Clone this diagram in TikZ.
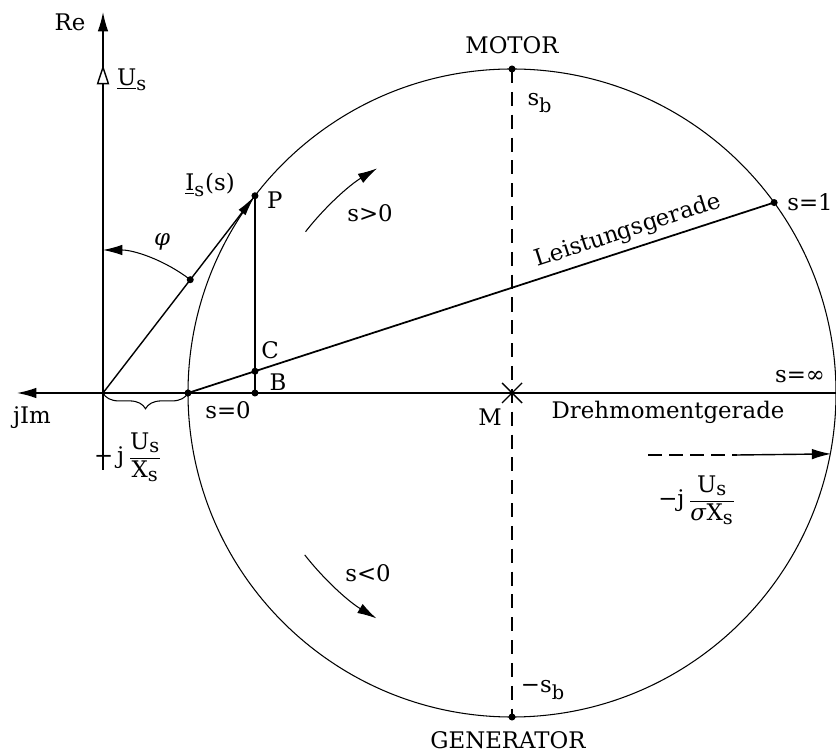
\documentclass[tikz,border=0pt]{standalone}
\usepackage{amsmath}
\usepackage{fontspec}
\setmainfont{DejaVu Serif}
\DeclareMathSizes{13}{13}{11}{9}
\usetikzlibrary{arrows.meta,calc,decorations.pathreplacing}
\begin{document}
\begin{tikzpicture}[font=\fontsize{13}{15}\selectfont,
  pfeil/.style={-{Latex[length=11pt,width=6pt]}},
  dunn/.style={line width=0.6pt},
  achse/.style={line width=0.8pt},
  strich/.style={line width=0.8pt,dash pattern=on 8pt off 5pt},
  punkt/.style={circle,fill,inner sep=0pt,minimum size=4pt}]
\useasboundingbox (-2.06,-7.22) rectangle (14.66,7.86);
\coordinate (O) at (0,0);
\coordinate (M) at (8.18,0);
\coordinate (retip) at (0,7.62);
\coordinate (ybot) at (0,-1.54);
\coordinate (imtip) at (-1.72,0);
\coordinate (xend) at (14.66,0);
\coordinate (us) at (0,6.56);
\coordinate (A) at ($(M)+(180:6.48)$);
\coordinate (P) at ($(M)+(142.5:6.48)$);
\coordinate (S1) at ($(M)+(36:6.48)$);
\coordinate (SB) at ($(M)+(90:6.48)$);
\coordinate (SBm) at ($(M)+(-90:6.48)$);
\coordinate (B) at (P |- O);
\coordinate (C) at (intersection of A--S1 and P--B);
\coordinate (phi) at (52.4:2.86);
\coordinate (ds) at (10.9,-1.24);
\coordinate (dm) at (12.68,-1.24);
\coordinate (de) at ($(M)+(-10.8:6.5)$);
\draw[dunn] (M) circle (6.48);
\draw[achse,pfeil] (ybot) -- (retip);
\draw[achse,-{Triangle[length=11pt,width=7pt,fill=white]}] (O) -- (us);
\draw[achse,pfeil] (xend) -- (imtip);
\draw[strich] (SB) -- (SBm);
\draw[line width=1pt] (A) -- (S1);
\draw[achse] (P) -- (B);
\draw[achse,-{Latex[length=12pt,width=5pt]}] (O) -- (P);
\draw[dunn,pfeil] (phi) arc (52.4:90:2.86);
\draw[dunn,pfeil] ($(M)+(142:5.24)$) arc (142:121:5.24);
\draw[dunn,pfeil] ($(M)+(218:5.26)$) arc (218:239:5.26);
\draw[achse] ($(M)+(-0.2,-0.2)$) -- ($(M)+(0.2,0.2)$);
\draw[achse] ($(M)+(-0.2,0.2)$) -- ($(M)+(0.2,-0.2)$);
\draw[dunn,decorate,decoration={brace,mirror,amplitude=9pt}] (O) -- (A);
\draw[achse,dash pattern=on 8pt off 4pt] (ds) -- (dm);
\draw[achse,pfeil] (dm) -- (de);
\foreach \p in {A,B,C,P,S1,SB,SBm,phi} \node[punkt] at (\p) {};
\node (re) at (-0.66,7.42) {Re};
\node[anchor=west] (usl) at (0.16,6.26) {$\underline{\text{U}}_{\text{s}}$};
\node (isl) at (2.14,4.16) {$\underline{\text{I}}_{\text{s}}$(s)};
\node[anchor=west] (pl) at (3.16,3.86) {P};
\node (phil) at (1.18,3.02) {\textit{φ}};
\node (gr0) at (5.34,3.6) {s>0};
\node (kl0) at (5.3,-3.6) {s<0};
\node (motor) at (8.18,6.96) {MOTOR};
\node (gen) at (8.1,-6.94) {GENERATOR};
\node (sbl) at (8.74,5.8) {s$_{\text{b}}$};
\node (sbml) at (8.8,-5.94) {−s$_{\text{b}}$};
\node (s1l) at (14.14,3.82) {s=1};
\node[rotate=18] (lg) at (10.5,3.24) {Leistungsgerade};
\node (cl) at (3.34,0.86) {C};
\node (bl) at (3.5,0.22) {B};
\node (s0l) at (2.5,-0.34) {s=0};
\node (jim) at (-1.42,-0.5) {jIm};
\node (ml) at (7.74,-0.48) {M};
\node (dml) at (11.3,-0.38) {Drehmomentgerade};
\node (sinf) at (13.94,0.32) {s=∞};
\node[anchor=west] (ixs) at (-0.3,-1.28) {−\,j\,$\dfrac{\text{U}_{\text{s}}}{\text{X}_{\text{s}}}$};
\node (isx) at (11.88,-2.14) {−j\,$\dfrac{\text{U}_{\text{s}}}{\text{\textit{σ}X}_{\text{s}}}$};
\end{tikzpicture}
\end{document}
